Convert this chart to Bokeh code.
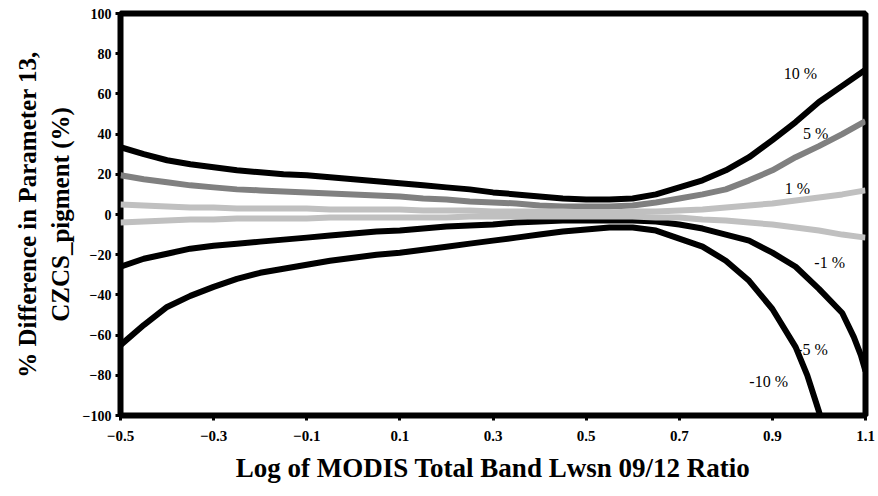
from bokeh.plotting import figure
from bokeh.models import FixedTicker, Label
from bokeh.embed import file_html
from bokeh.resources import INLINE

x_log = [-0.5, -0.45, -0.4, -0.35, -0.3, -0.25, -0.2, -0.15, -0.1, -0.05, 0.0,
         0.05, 0.1, 0.15, 0.2, 0.25, 0.3, 0.35, 0.4, 0.45, 0.5, 0.55, 0.6, 0.65,
         0.7, 0.75, 0.8, 0.85, 0.9, 0.95, 1.0, 1.05, 1.1]

p10 = [33.5, 30, 27, 25, 23.5, 22, 21, 20, 19.5, 18.5, 17.5, 16.5, 15.5, 14.5,
       13.5, 12.5, 11, 10, 9, 8, 7.5, 7.5, 8, 10, 13.5, 17, 22, 28.5, 37, 46,
       56, 64, 72]
p5 = [19.5, 17.5, 16, 14.5, 13.5, 12.5, 12, 11.5, 11, 10.5, 10, 9.5, 9, 8, 7.5,
      6.5, 6, 5.5, 4.5, 4, 4, 4, 4.5, 6, 8, 10, 12.5, 17, 22, 28.5, 34, 40, 46.5]
p1 = [5, 4.5, 4, 3.5, 3.5, 3, 3, 3, 3, 2.5, 2.5, 2.5, 2.5, 2, 2, 2, 1.5, 1.5,
      1.5, 1.5, 1, 1, 1.5, 1.5, 2, 2.5, 3.5, 4.5, 5.5, 7, 8.5, 10, 12]
m1 = [-4, -3.5, -3, -2.5, -2.5, -2, -2, -2, -2, -1.5, -1.5, -1.5, -1.5, -1.5,
      -1.5, -1, -1, -1, -1, -1, -1, -1, -1, -1.5, -1.5, -2.5, -3, -4, -5, -6.5,
      -8, -10, -11.5]

x_m5 = [-0.5, -0.45, -0.4, -0.35, -0.3, -0.25, -0.2, -0.15, -0.1, -0.05, 0.0,
        0.05, 0.1, 0.15, 0.2, 0.25, 0.3, 0.35, 0.4, 0.45, 0.5, 0.55, 0.6, 0.65,
        0.7, 0.75, 0.8, 0.85, 0.9, 0.95, 1.0, 1.05, 1.075, 1.09, 1.1]
m5 = [-26, -22, -19.5, -17, -15.5, -14.5, -13.5, -12.5, -11.5, -10.5, -9.5,
      -8.5, -8, -7, -6, -5.5, -5, -4, -3.5, -3, -3, -3, -3, -3.5, -5, -7, -10,
      -13, -19, -26, -37, -49, -61, -70, -78]

x_m10 = [-0.5, -0.45, -0.4, -0.35, -0.3, -0.25, -0.2, -0.15, -0.1, -0.05, 0.0,
         0.05, 0.1, 0.15, 0.2, 0.25, 0.3, 0.35, 0.4, 0.45, 0.5, 0.55, 0.6, 0.65,
         0.7, 0.75, 0.8, 0.85, 0.9, 0.95, 0.975, 1.0, 1.01]
m10 = [-65, -55, -46, -40.5, -36, -32, -29, -27, -25, -23, -21.5, -20, -19,
       -17.5, -16, -14.5, -13, -11.5, -10, -8.5, -7.5, -6.5, -6.5, -8, -12, -16,
       -23, -33, -47, -66, -80, -98, -106]

x_ticks = [-0.5, -0.3, -0.1, 0.1, 0.3, 0.5, 0.7, 0.9, 1.1]
y_ticks = [-100, -80, -60, -40, -20, 0, 20, 40, 60, 80, 100]

curve_labels = ["10 %", "5 %", "1 %", "-1 %", "-5 %", "-10 %"]
label_x = [0.960, 0.993, 0.954, 1.023, 0.986, 0.892]
label_y = [70, 40.5, 13, -24, -67, -83]

SERIF = "Liberation Serif"

p = figure(width=878, height=496, output_backend="svg", toolbar_location=None,
           x_range=(-0.5, 1.1), y_range=(-100, 100),
           min_border_left=120, min_border_right=13, min_border_top=13,
           min_border_bottom=81)
p.background_fill_color = "white"
p.border_fill_color = "white"
p.outline_line_color = "black"
p.outline_line_width = 6
p.xgrid.visible = False
p.ygrid.visible = False

for ax in (p.xaxis, p.yaxis):
    ax.axis_line_color = None
    ax.major_tick_in = 0
    ax.major_tick_out = 5
    ax.major_tick_line_width = 3
    ax.major_tick_line_color = "black"
    ax.minor_tick_line_color = None
    ax.major_label_text_font = SERIF
    ax.major_label_text_font_style = "bold"
    ax.major_label_text_color = "black"
    ax.axis_label_text_font = SERIF
    ax.axis_label_text_font_style = "bold"
    ax.axis_label_text_color = "black"

p.xaxis.ticker = FixedTicker(ticks=x_ticks)
p.yaxis.ticker = FixedTicker(ticks=y_ticks)
p.xaxis.major_label_text_font_size = "15px"
p.yaxis.major_label_text_font_size = "14px"
p.xaxis.major_label_standoff = 10
p.yaxis.major_label_standoff = 4
p.xaxis.axis_label = "Log of MODIS Total Band Lwsn 09/12 Ratio"
p.xaxis.axis_label_text_font_size = "27px"
p.xaxis.axis_label_standoff = 9
p.yaxis.axis_label = "% Difference in Parameter 13,\nCZCS_pigment (%)"
p.yaxis.axis_label_text_font_size = "25px"
p.yaxis.axis_label_standoff = 6

for lab, lx, ly in zip(curve_labels, label_x, label_y):
    p.add_layout(Label(x=lx, y=ly, text=lab, text_font=SERIF,
                       text_font_size="16px", text_color="black",
                       text_align="center", text_baseline="middle",
                       level="underlay"))

lw = 6
p.line(x_log, p10, line_color="black", line_width=lw)
p.line(x_m5, m5, line_color="black", line_width=lw)
p.line(x_m10, m10, line_color="black", line_width=lw)
p.line(x_log, p5, line_color="#808080", line_width=lw)
p.line(x_log, p1, line_color="#c0c0c0", line_width=lw)
p.line(x_log, m1, line_color="#c0c0c0", line_width=lw)

open("out.html", "w").write(file_html(p, INLINE))
